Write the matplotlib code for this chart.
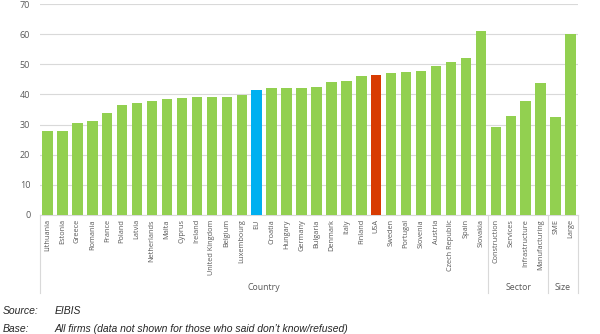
import numpy as np
import matplotlib
matplotlib.use("Agg")
import matplotlib.pyplot as plt
import matplotlib.transforms as mtransforms

# categories in plotting order, grouped
countries = ["Lithuania", "Estonia", "Greece", "Romania", "France", "Poland", "Latvia",
             "Netherlands", "Malta", "Cyprus", "Ireland", "United Kingdom", "Belgium",
             "Luxembourg", "EU", "Croatia", "Hungary", "Germany", "Bulgaria", "Denmark",
             "Italy", "Finland", "USA", "Sweden", "Portugal", "Slovenia", "Austria",
             "Czech Republic", "Spain", "Slovakia"]
country_vals = [27.8, 27.8, 30.6, 31.2, 33.7, 36.4, 37.2, 37.8, 38.6, 38.7, 39.3, 39.3, 39.3,
                39.7, 41.5, 42.0, 42.2, 42.2, 42.4, 44.1, 44.5, 46.1, 46.3, 47.0, 47.4, 47.8,
                49.4, 50.7, 52.0, 60.9]
sectors = ["Construction", "Services", "Infrastructure", "Manufacturing"]
sector_vals = [29.1, 32.9, 37.8, 43.8]
sizes = ["SME", "Large"]
size_vals = [32.6, 60.2]

groups = [("Country", countries), ("Sector", sectors), ("Size", sizes)]
highlight = {"EU": "#00B0F0", "USA": "#D83B01"}
green = "#92D050"
grey_txt = "#595959"

labels = countries + sectors + sizes
values = country_vals + sector_vals + size_vals
x = np.arange(len(labels))
colors = [highlight.get(l, green) for l in labels]

plt.rcParams['font.family'] = ['Open Sans', 'DejaVu Sans']

fig = plt.figure(figsize=(6.0, 3.34), dpi=100)
ax = fig.add_axes([40 / 600, 1 - 215 / 334, 538 / 600, 211 / 334])

ax.bar(x, values, width=0.7, color=colors, zorder=3)

ax.set_xlim(-0.5, len(labels) - 0.5)
ax.set_ylim(0, 70)
ax.set_yticks(range(0, 71, 10))
ax.grid(axis="y", color="#D9D9D9", linewidth=0.8, zorder=0)
ax.tick_params(axis="y", length=0, labelsize=6.5, labelcolor=grey_txt, pad=7)
ax.set_xticks(x)
ax.set_xticklabels(labels, rotation=90, fontsize=5.3, color=grey_txt)
ax.tick_params(axis="x", length=0, pad=3)
for side in ["top", "right", "left"]:
    ax.spines[side].set_visible(False)
ax.spines["bottom"].set_color("#D9D9D9")
ax.spines["bottom"].set_linewidth(0.8)

# group separators and group names below tick labels
trans = mtransforms.blended_transform_factory(ax.transData, ax.transAxes)
line_bottom = -78 / 211
start = 0
edges = [-0.5]
for name, cats in groups:
    end = start + len(cats)
    edges.append(end - 0.5)
    ax.text((start + end - 1) / 2, -73 / 211, name, transform=trans, ha="center",
            va="center", fontsize=6.3, color=grey_txt)
    start = end
for e in edges:
    ax.plot([e, e], [0, line_bottom], transform=trans, color="#D9D9D9",
            linewidth=0.8, clip_on=False)

# footnotes
foot = dict(fontsize=7.5, style="italic", family="Liberation Sans", va="center",
            color="#262626")
fig.text(3 / 600, 1 - 311 / 334, "Source:", **foot)
fig.text(55 / 600, 1 - 311 / 334, "EIBIS", **foot)
fig.text(3 / 600, 1 - 329 / 334, "Base:", **foot)
fig.text(55 / 600, 1 - 329 / 334,
         "All firms (data not shown for those who said don\u2019t know/refused)", **foot)

fig.savefig("out.png", dpi=100)
